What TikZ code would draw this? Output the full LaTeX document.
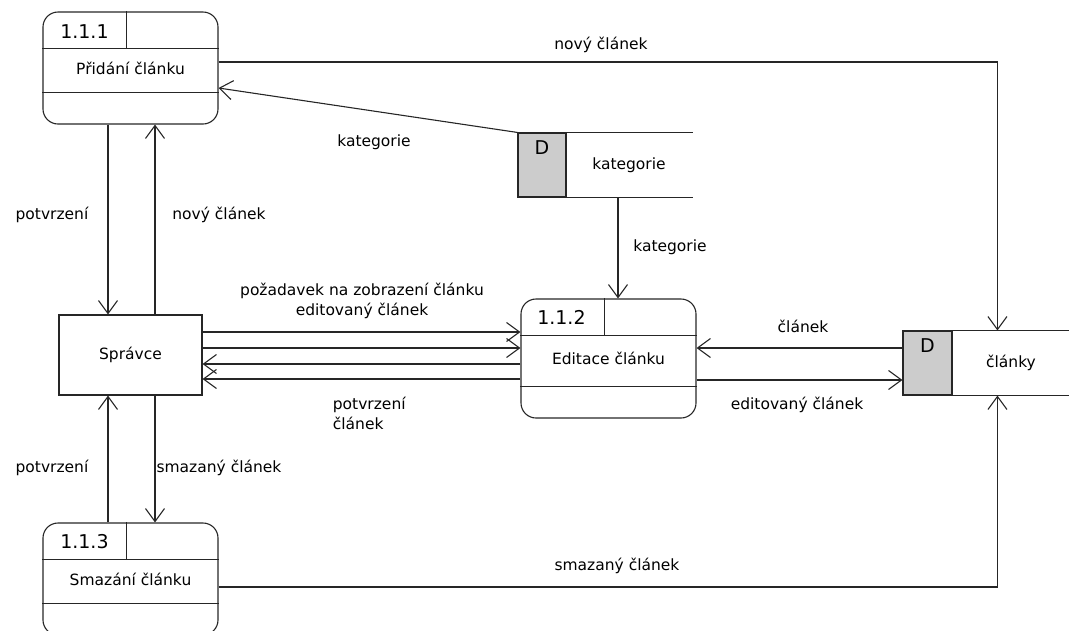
\documentclass[tikz,border=0pt]{standalone}
\usepackage{fontspec}
\setmainfont{DejaVu Sans}
\usetikzlibrary{arrows.meta}
\definecolor{storegray}{gray}{0.8}
\definecolor{linegray}{gray}{0.15}
\tikzset{
  process/.style={draw, rounded corners=15pt, minimum width=175pt, inner sep=0pt},
  entity/.style={draw, minimum width=143pt, minimum height=80pt, inner sep=0pt},
  dbox/.style={draw, fill=storegray, minimum width=48pt, minimum height=64pt, inner sep=0pt},
  store/.style={minimum height=64pt, inner sep=0pt},
  num/.style={font=\fontsize{19}{19}\selectfont, inner sep=0pt},
  flow/.style={-{Straight Barb[length=13pt,width=19pt]}}
}
\begin{document}
\begin{tikzpicture}[x=1pt,y=-1pt,line width=1.1pt,draw=linegray,
    font=\fontsize{15.5}{20}\selectfont]
  \useasboundingbox (0,0) rectangle (1069,630);
  \draw
    (130.5,68) node[process,minimum height=112pt] (p111){Přidání článku}
    (608.5,358.5) node[process,minimum height=119pt] (p112){Editace článku}
    (130.5,579) node[process,minimum height=112pt] (p113){Smazání článku}
    (130.5,355) node[entity] (sp){Správce}
    (542,165) node[dbox] (dk){}
    (629,165) node[store,minimum width=126pt] (kat){kategorie}
    (927.5,363) node[dbox,minimum width=49pt] (dc){}
    (1011,363) node[store,minimum width=118pt] (cl){články};
  \foreach \p in {p111,p112,p113} {
    \draw ([yshift=-37pt]\p.north west) -- ([yshift=-37pt]\p.north east);
    \draw ([yshift=32pt]\p.south west) -- ([yshift=32pt]\p.south east);
    \draw ([xshift=84pt]\p.north west) -- ([xshift=84pt,yshift=-37pt]\p.north west);
  }
  \node[num] (n111) at ([shift={(42pt,-20pt)}]p111.north west) {1.1.1};
  \node[num] (n112) at ([shift={(41pt,-19pt)}]p112.north west) {1.1.2};
  \node[num] (n113) at ([shift={(42pt,-19pt)}]p113.north west) {1.1.3};
  \draw (kat.north west) -- (kat.north east) (kat.south west) -- (kat.south east);
  \draw (cl.north west) -- (cl.north east) (cl.south west) -- (cl.south east);
  \node[num] (dkl) at ([yshift=-15pt]dk.north) {D};
  \node[num] (dcl) at ([yshift=-15pt]dc.north) {D};
  \begin{scope}[flow]
    \draw ([yshift=6pt]p111.east) -| ([xshift=46pt]cl.north west);
    \draw (dk.north west) -- ([yshift=-20pt]p111.east);
    \draw ([xshift=-11pt]kat.south) -- ([xshift=-11pt]kat.south |- p112.north);
    \draw ([yshift=15pt]dc.west) -- ([yshift=15pt]dc.west -| p112.east);
    \draw ([yshift=-17pt]dc.west -| p112.east) -- ([yshift=-17pt]dc.west);
    \draw ([yshift=-8pt]p113.east) -| ([xshift=46pt]cl.south west);
    \draw ([yshift=23pt]sp.east) -- ([yshift=23pt]sp.east -| p112.west);
    \draw ([yshift=7pt]sp.east) -- ([yshift=7pt]sp.east -| p112.west);
    \draw ([yshift=-9pt]sp.east -| p112.west) -- ([yshift=-9pt]sp.east);
    \draw ([yshift=-24pt]sp.east -| p112.west) -- ([yshift=-24pt]sp.east);
    \draw ([xshift=-22.5pt]p111.south) -- ([xshift=-22.5pt]sp.north);
    \draw ([xshift=24.5pt]sp.north) -- ([xshift=24.5pt]p111.south);
    \draw ([xshift=-22.5pt]p113.north) -- ([xshift=-22.5pt]sp.south);
    \draw ([xshift=24.5pt]sp.south) -- ([xshift=24.5pt]p113.north);
  \end{scope}
  \node (l1) at (601,45) {nový článek};
  \node (l2) at (374,142) {kategorie};
  \node (l3) at (670,247) {kategorie};
  \node (l4) at (52,215) {potvrzení};
  \node (l5) at (219,215) {nový článek};
  \node[align=center] (l6) at (362,301) {požadavek na zobrazení článku\\editovaný článek};
  \node[align=left,anchor=west] (l7) at (329,413) {potvrzení\\článek};
  \node (l8) at (803,326) {článek};
  \node (l9) at (797,405) {editovaný článek};
  \node (l10) at (52,468) {potvrzení};
  \node (l11) at (219,468) {smazaný článek};
  \node (l12) at (617,566) {smazaný článek};
\end{tikzpicture}
\end{document}
